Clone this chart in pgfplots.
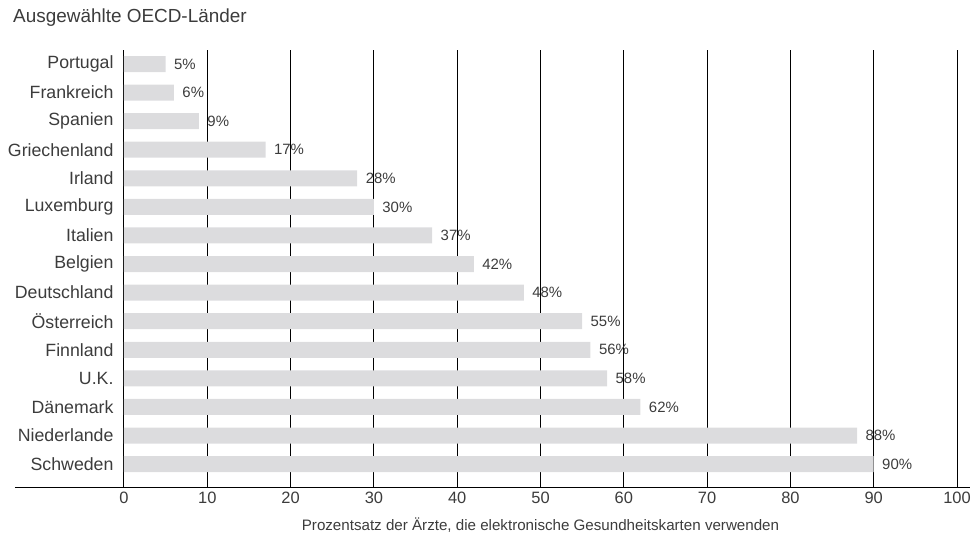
\documentclass[border=0pt]{standalone}
\usepackage{pgfplots}
\pgfplotsset{compat=1.18}
\usepackage{fontspec}
\setmainfont{Liberation Sans}
\definecolor{bargray}{RGB}{220,220,222}
\definecolor{txtgray}{RGB}{60,60,60}

\begin{document}
\begin{tikzpicture}
\useasboundingbox (-124bp,-49bp) rectangle (850bp,487bp);
\begin{axis}[
    xbar,
    scale only axis,
    width=833bp, height=437bp,
    at={(0,0)}, anchor=south west,
    xmin=0, xmax=100,
    ymin=-0.8, ymax=14.49,
    xtick={0,10,...,100},
    ytick={0,...,14},
    yticklabels={Schweden, Niederlande, Dänemark, U.K., Finnland, Österreich,
        Deutschland, Belgien, Italien, Luxemburg, Irland, Griechenland,
        Spanien, Frankreich, Portugal},
    xmajorgrids,
    major grid style={black, line width=1bp},
    axis line style={draw=none},
    major tick length=0pt,
    /pgf/number format/assume math mode=true,
    xticklabel style={font=\fontsize{16.5}{18}\selectfont, text=txtgray, anchor=base, yshift=-16bp},
    yticklabel style={font=\fontsize{17.8}{19}\selectfont, text=txtgray, anchor=east, xshift=-7bp},
    xlabel={Prozentsatz der Ärzte, die elektronische Gesundheitskarten verwenden},
    xlabel style={font=\fontsize{15.2}{17}\selectfont, text=txtgray, at={(axis description cs:0.5,0)}, anchor=center, yshift=-38bp},
    bar width=16bp,
    point meta=x,
    nodes near coords={\pgfmathprintnumber{\pgfplotspointmeta}\%},
    nodes near coords style={font=\fontsize{15}{17}\selectfont, text=txtgray, anchor=west, xshift=5bp},
    clip=false,
]
\addplot[fill=bargray, draw=none] coordinates {
    (90,0) (88,1) (62,2) (58,3) (56,4) (55,5) (48,6) (42,7)
    (37,8) (30,9) (28,10) (17,11) (9,12) (6,13) (5,14)
};
\end{axis}
\draw[black, line width=1bp] (-109bp,0) -- (846bp,0);
\node[anchor=west, font=\fontsize{19}{21}\selectfont, text=txtgray, inner sep=0pt] at (-111bp,469bp) {Ausgewählte OECD-Länder};
\end{tikzpicture}
\end{document}
